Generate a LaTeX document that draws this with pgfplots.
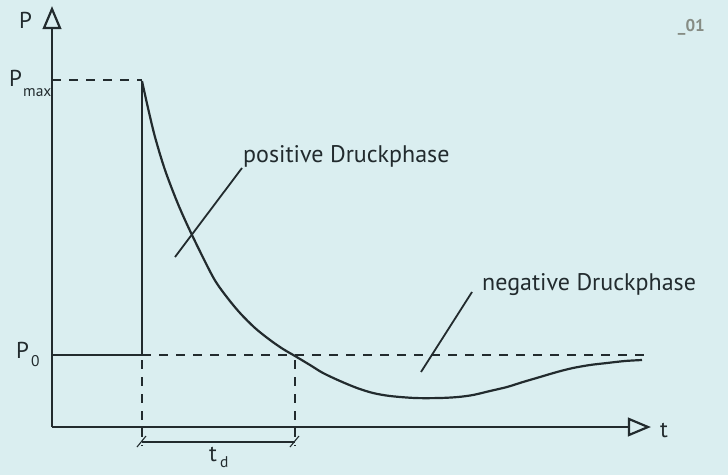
\documentclass[border=0pt]{standalone}
\usepackage{pgfplots}
\pgfplotsset{compat=1.18}
\usepackage{fontspec}
\setmainfont{PT Sans}
\definecolor{bg}{HTML}{DAEEF0}
\definecolor{ln}{HTML}{222B2E}
\definecolor{num}{HTML}{868C84}
\begin{document}
\begin{tikzpicture}
\begin{axis}[
  width=728bp, height=475bp, scale only axis,
  xmin=0, xmax=728, ymin=0, ymax=475, y dir=reverse,
  hide axis, clip=false,
]
\fill[bg] (axis cs:0,0) rectangle (axis cs:728,475);
% dashed guides
\draw[ln, line width=1.1bp, dash pattern=on 9bp off 8bp] (axis cs:52,80) -- (axis cs:142,80);
\draw[ln, line width=1.1bp, dash pattern=on 9bp off 8bp] (axis cs:142,355) -- (axis cs:650,355);
\draw[ln, line width=1.1bp, dash pattern=on 9bp off 8bp] (axis cs:142,360) -- (axis cs:142,446);
\draw[ln, line width=1.1bp, dash pattern=on 9bp off 8bp] (axis cs:295,360) -- (axis cs:295,446);
% axes
\draw[ln, line width=2.4bp] (axis cs:52,427) -- (axis cs:52,28);
\draw[ln, line width=2.2bp, line join=miter] (axis cs:44,28) -- (axis cs:52,9) -- (axis cs:60,28) -- cycle;
\draw[ln, line width=2.4bp] (axis cs:52,427) -- (axis cs:629,427);
\draw[ln, line width=2.2bp, line join=miter] (axis cs:629,419) -- (axis cs:648,427) -- (axis cs:629,435) -- cycle;
% dimension line
\draw[ln, line width=1.1bp] (axis cs:142,442) -- (axis cs:295,442);
\draw[ln, line width=1.1bp] (axis cs:137,447) -- (axis cs:146,436);
\draw[ln, line width=1.1bp] (axis cs:290,447) -- (axis cs:299,436);
% step
\addplot[ln, line width=2.2bp, sharp plot] coordinates {(52,355) (142,355) (142,81)};
% curve
\addplot[ln, line width=2.2bp, smooth, tension=0.5] coordinates {
(142,81) (148,108) (155,137) (165,170) (178,204) (192,235)
(213,277) (226,296) (240,313) (255,328) (270,340) (283,349)
(295,356) (310,365) (323,373) (340,381) (357,388) (373,393) (390,396)
(415,398) (440,398) (458,397) (473,395) (490,391) (507,387) (523,382)
(540,377) (557,372) (573,368) (590,365) (607,363) (625,361) (642,360)};
% leaders
\draw[ln, line width=1.8bp] (axis cs:175,257) -- (axis cs:242,168);
\draw[ln, line width=1.8bp] (axis cs:421,372) -- (axis cs:472,292);
% labels
\node[ln, anchor=base west, inner sep=0pt, font=\fontsize{24bp}{28bp}\selectfont] at (axis cs:243,162) {positive Druckphase};
\node[ln, anchor=base west, inner sep=0pt, font=\fontsize{24bp}{28bp}\selectfont] at (axis cs:482,290) {negative Druckphase};
\node[ln, anchor=base west, inner sep=0pt, font=\fontsize{23bp}{26bp}\selectfont] at (axis cs:19,29) {P};
\node[ln, anchor=base west, inner sep=0pt, font=\fontsize{23bp}{26bp}\selectfont] at (axis cs:9,87) {P};
\node[ln, anchor=base west, inner sep=0pt, font=\fontsize{15.5bp}{18bp}\selectfont] at (axis cs:23,96) {max};
\node[ln, anchor=base west, inner sep=0pt, font=\fontsize{23bp}{26bp}\selectfont] at (axis cs:16,358) {P};
\node[ln, anchor=base west, inner sep=0pt, font=\fontsize{15.5bp}{18bp}\selectfont] at (axis cs:31,366) {0};
\node[ln, anchor=base west, inner sep=0pt, font=\fontsize{23bp}{26bp}\selectfont] at (axis cs:660,437) {t};
\node[ln, anchor=base west, inner sep=0pt, font=\fontsize{23bp}{26bp}\selectfont] at (axis cs:209,461) {t};
\node[ln, anchor=base west, inner sep=0pt, font=\fontsize{15.5bp}{18bp}\selectfont] at (axis cs:220,467) {d};
\node[num, anchor=base east, inner sep=0pt, font=\fontsize{17bp}{20bp}\selectfont\bfseries] at (axis cs:705,32) {\_01};
\end{axis}
\end{tikzpicture}
\end{document}
